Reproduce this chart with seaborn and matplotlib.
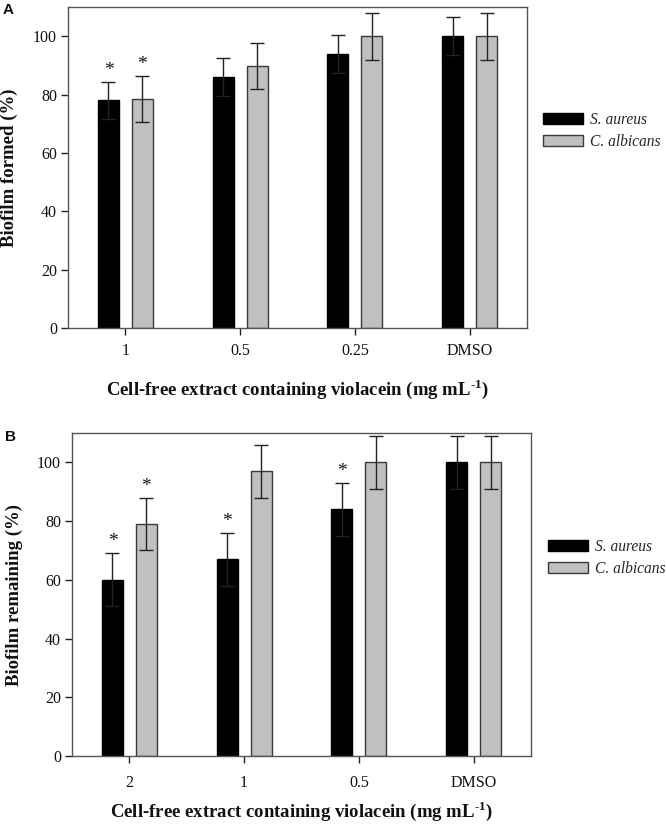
import numpy as np
import pandas as pd
import matplotlib
matplotlib.use("Agg")
import matplotlib.pyplot as plt
import matplotlib.patches as mpatches
import seaborn as sns

species = ["S. aureus", "C. albicans"]

# Panel A
cats_a = ["1", "0.5", "0.25", "DMSO"]
sa_a = [78, 86, 94, 100]
sa_a_err = [6.3, 6.5, 6.5, 6.5]
ca_a = [78.5, 89.8, 100, 100]
ca_a_err = [8, 8, 8, 8]
stars_a_sa = [True, False, False, False]
stars_a_ca = [True, False, False, False]

# Panel B
cats_b = ["2", "1", "0.5", "DMSO"]
sa_b = [60, 67, 84, 100]
sa_b_err = [9, 9, 9, 9]
ca_b = [79, 97, 100, 100]
ca_b_err = [9, 9, 9, 9]
stars_b_sa = [True, True, True, False]
stars_b_ca = [True, False, False, False]

sns.set_theme(style="white")
plt.rcParams["font.family"] = ["Liberation Serif", "DejaVu Serif"]
plt.rcParams["mathtext.fontset"] = "custom"
plt.rcParams["mathtext.rm"] = "Liberation Serif:bold"
plt.rcParams["mathtext.bf"] = "Liberation Serif:bold"

colors = {"S. aureus": "#000000", "C. albicans": "#c0c0c0"}
edges = {"S. aureus": "#000000", "C. albicans": "#3a3a3a"}

fig = plt.figure(figsize=(6.66, 8.25), dpi=100)
axA = fig.add_axes([68/666, 1-328/825, 459/666, 321/825])
axB = fig.add_axes([72/666, 1-756/825, 459/666, 323/825])


def panel(ax, cats, sa, sa_err, ca, ca_err, st_sa, st_ca, ylabel, ylab_x,
          xpad, xlab_y, leg_xy, letter, letter_xy):
    df = pd.DataFrame({
        "cat": cats * 2,
        "species": [species[0]] * len(cats) + [species[1]] * len(cats),
        "val": list(sa) + list(ca),
    })
    sns.barplot(data=df, x="cat", y="val", hue="species", order=cats,
                hue_order=species, palette=colors, errorbar=None,
                width=0.59, gap=0.38, ax=ax, legend=False, linewidth=1.0)
    errs = [sa_err, ca_err]
    stars = [st_sa, st_ca]
    vals = [sa, ca]
    bar_conts = list(ax.containers)[:2]
    for i, cont in enumerate(bar_conts):
        sp = species[i]
        for j, bar in enumerate(cont):
            bar.set_edgecolor(edges[sp])
            bar.set_linewidth(1.0)
            xc = bar.get_x() + bar.get_width() / 2
            ax.errorbar(xc, vals[i][j], yerr=errs[i][j], color="#222222",
                        capsize=5, elinewidth=1.0, capthick=1.0, fmt="none",
                        zorder=3)
            if stars[i][j]:
                ax.text(xc, vals[i][j] + errs[i][j] + 1.0, "*", ha="center",
                        va="bottom", fontsize=14, color="#111111")
    ax.set_ylim(0, 110)
    ax.set_xlim(-0.5, 3.5)
    ax.set_yticks([0, 20, 40, 60, 80, 100])
    ax.tick_params(axis="y", direction="out", length=5, width=1,
                   colors="#222222", labelsize=11.5, left=True, pad=3)
    ax.tick_params(axis="x", direction="out", length=5, width=1,
                   colors="#222222", labelsize=11.5, bottom=True, pad=xpad)
    for t in ax.get_xticklabels() + ax.get_yticklabels():
        t.set_color("#111111")
    for s in ax.spines.values():
        s.set_color("#555555")
        s.set_linewidth(1.0)
    ax.set_ylabel(ylabel, fontsize=13.5, fontweight="bold", color="#111111")
    ax.yaxis.set_label_coords(ylab_x, 0.5)
    ax.set_xlabel(r"Cell-free extract containing violacein (mg mL$^{\text{-1}}$)",
                  fontsize=13.5, fontweight="bold", color="#111111")
    ax.xaxis.set_label_coords(0.5, xlab_y)
    ax.xaxis.label.set_verticalalignment("baseline")
    handles = [mpatches.Patch(facecolor=colors[s], edgecolor=edges[s], linewidth=1.0)
               for s in species]
    ax.legend(handles, species, loc="center left",
              bbox_to_anchor=leg_xy, bbox_transform=fig.transFigure,
              frameon=False, borderpad=0, borderaxespad=0,
              handlelength=2.6, handleheight=0.7, handletextpad=0.45,
              labelspacing=0.35, prop={"family": "Liberation Serif",
                                       "style": "italic", "size": 11.2})
    fig.text(letter_xy[0], letter_xy[1], letter, fontsize=11, fontweight="bold",
             family="Liberation Sans", ha="left", va="center", color="#111111")


panel(axA, cats_a, sa_a, sa_a_err, ca_a, ca_a_err, stars_a_sa, stars_a_ca,
      "Biofilm formed (%)", -0.108, 6, -0.209, (543/666, 1-131/825), "A",
      (3/666, 1-10/825))
panel(axB, cats_b, sa_b, sa_b_err, ca_b, ca_b_err, stars_b_sa, stars_b_ca,
      "Biofilm remaining (%)", -0.106, 9, -0.19, (548/666, 1-558/825), "B",
      (5/666, 1-437/825))

fig.savefig("out.png", dpi=100)
